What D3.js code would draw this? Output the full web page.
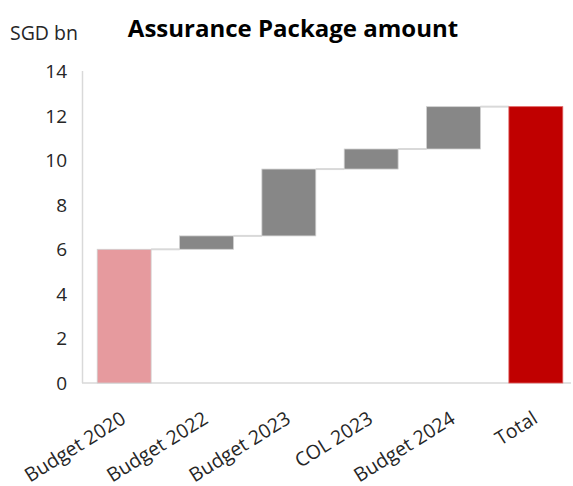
<!DOCTYPE html>
<html>
<head>
<meta charset="utf-8">
<script src="https://cdn.jsdelivr.net/npm/d3@7"></script>
<style>
  html, body { margin: 0; padding: 0; background: #fff; }
  svg { display: block; }
  text { font-family: "Open Sans", "Liberation Sans", sans-serif; }
</style>
</head>
<body>
<svg id="chart" width="573" height="486"></svg>
<script>
// Waterfall of the Assurance Package build-up (SGD bn)
const categories = ["Budget 2020", "Budget 2022", "Budget 2023", "COL 2023", "Budget 2024", "Total"];
const increments = [6.0, 0.6, 3.0, 0.9, 1.9];   // each package's contribution
const totalValue = 12.4;                         // sum shown as the final bar
const yTicks = [0, 2, 4, 6, 8, 10, 12, 14];
const barKinds = ["start", "step", "step", "step", "step", "total"];

const colors = { start: "#e69a9e", step: "#878787", total: "#c00000" };

const svg = d3.select("#chart");

const x = d3.scaleBand().domain(categories).range([83, 577]).paddingInner(0.345).paddingOuter(0.1725);
const y = d3.scaleLinear().domain([0, 14]).range([383, 71]);

// build floating segments
let run = 0;
const bars = categories.map((c, i) => {
  let lo, hi;
  if (barKinds[i] === "total") { lo = 0; hi = totalValue; }
  else { lo = run; hi = run + increments[i]; run = hi; }
  return { cat: c, lo, hi, kind: barKinds[i] };
});

// axis lines
const axisColor = "#d9d9d9";
svg.append("line").attr("x1", 82.5).attr("x2", 82.5).attr("y1", y(14)).attr("y2", y(0))
  .attr("stroke", axisColor).attr("stroke-width", 1.5);
svg.append("line").attr("x1", 82).attr("x2", 571).attr("y1", y(0)).attr("y2", y(0))
  .attr("stroke", axisColor).attr("stroke-width", 1.5);

// y tick labels
const yAxis = d3.axisLeft(y).tickValues(yTicks).tickSize(0).tickPadding(0);
const gy = svg.append("g").attr("transform", "translate(67,0)").call(yAxis);
gy.select(".domain").remove();
gy.selectAll("text").attr("font-size", 19).attr("fill", "#262626")
  .attr("font-family", "'Open Sans', sans-serif").attr("dy", "0.34em");

// connectors between bars
for (let i = 0; i < bars.length - 1; i++) {
  const level = bars[i].hi;
  svg.append("line")
    .attr("x1", x(bars[i].cat) + x.bandwidth())
    .attr("x2", x(bars[i + 1].cat))
    .attr("y1", y(level)).attr("y2", y(level))
    .attr("stroke", axisColor).attr("stroke-width", 2);
}

// bars
svg.selectAll("rect.bar").data(bars).enter().append("rect")
  .attr("class", "bar")
  .attr("x", d => x(d.cat))
  .attr("width", x.bandwidth())
  .attr("y", d => y(d.hi))
  .attr("height", d => y(d.lo) - y(d.hi))
  .attr("fill", d => colors[d.kind])
  .attr("stroke", d => d.kind === "total" ? "#e06060" : "#d0d0d0")
  .attr("stroke-width", 0.8);

// category labels, rotated
const xAxis = d3.axisBottom(x).tickSize(0).tickPadding(0);
const gx = svg.append("g").attr("transform", `translate(0,${y(0)})`).call(xAxis);
gx.select(".domain").remove();
gx.selectAll("text")
  .attr("font-size", 19.5).attr("fill", "#262626")
  .attr("font-family", "'Open Sans', sans-serif")
  .attr("text-anchor", "end")
  .attr("dy", 0).attr("y", 0)
  .attr("transform", "translate(3,39) rotate(-32)");

// unit label and title
svg.append("text").attr("x", 10).attr("y", 40).attr("font-size", 19.5).attr("fill", "#262626")
  .text("SGD bn");
svg.append("text").attr("x", 293).attr("y", 37).attr("text-anchor", "middle")
  .attr("font-size", 24).attr("font-weight", "bold").attr("fill", "#000")
  .text("Assurance Package amount");
</script>
</body>
</html>
